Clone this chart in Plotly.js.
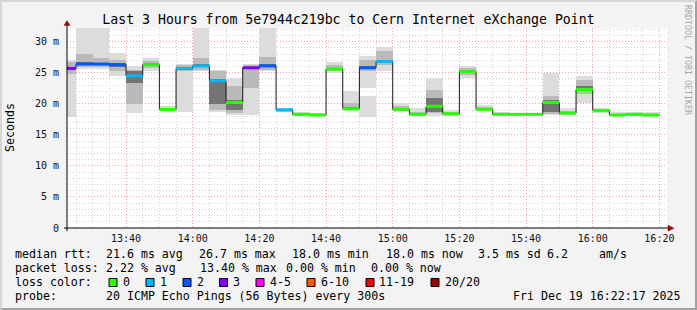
<!DOCTYPE html>
<html><head><meta charset="utf-8">
<script src="https://cdn.plot.ly/plotly-3.0.1.min.js"></script>
<style>
html,body{margin:0;padding:0;background:#f3f3f3;}
#wrap{position:relative;width:697px;height:310px;background:#f3f3f3;box-sizing:border-box;border-top:2px solid #d6d6d6;border-left:2px solid #d6d6d6;border-bottom:2px solid #a2a2a2;border-right:2px solid #a2a2a2;overflow:hidden}
#chart{position:absolute;left:-2px;top:-2px;width:697px;height:310px;}
</style></head><body><div id="wrap"><div id="chart"></div></div>
<script>
// ---- data (5-minute intervals, start times) ----
const day = '2025-12-19';
const times = ['13:20','13:25','13:30','13:35','13:40','13:45','13:50','13:55','14:00','14:05','14:10','14:15',
  '14:20','14:25','14:30','14:35','14:40','14:45','14:50','14:55','15:00','15:05','15:10','15:15',
  '15:20','15:25','15:30','15:35','15:40','15:45','15:50','15:55','16:00','16:05','16:10','16:15'];
// median rtt, ms
const medianMs = [25.7,26.4,26.4,26.3,24.5,26.3,19.1,25.7,26.1,23.7,20.2,25.8,
  26.1,19.0,18.3,18.2,25.6,19.2,25.8,26.8,19.1,18.3,19.6,18.4,
  25.2,19.1,18.3,18.3,18.3,20.2,18.5,22.3,18.9,18.2,18.3,18.2];
// lost pings out of 20
const lossCount = [3,2,2,2,1,0,0,1,1,1,0,3,
  2,1,0,0,0,0,2,1,0,0,0,0,
  0,0,0,0,0,0,0,0,0,0,0,0];
// smoke: outer band (lowest / highest ping)
const smokeMin = [17.9,25.6,25.6,24.5,18.5,25.3,18.9,18.6,25.3,18.7,18.2,18.2,
  25.2,18.7,18.1,18.1,24.9,18.9,22.6,25.3,18.7,18.0,18.1,18.1,
  24.2,18.9,18.15,18.15,18.15,18.2,18.2,20.1,18.5,18.1,18.1,17.95];
const smokeMax = [27.0,35,35,28.2,26.1,27.3,19.6,26.4,35,25.4,24.1,26.4,
  35,19.4,18.7,18.45,26.7,22.0,27.7,29.2,20.2,19.3,24.1,19.0,
  26.1,19.8,18.6,18.55,18.55,25.0,19.4,24.4,19.3,18.6,18.75,18.65];
// smoke: detached lower block (only where the smoke splits)
const smokeLowMin = [null,null,null,null,null,null,null,null,null,null,null,null,
  null,null,null,null,null,null,17.9,null,null,null,null,null,
  null,null,null,null,null,null,null,null,null,null,null,null];
const smokeLowMax = [null,null,null,null,null,null,null,null,null,null,null,null,
  null,null,null,null,null,null,21.2,null,null,null,null,null,
  null,null,null,null,null,null,null,null,null,null,null,null];
// smoke: middle band
const midLo = [24.8,25.9,26.0,25.3,19.9,25.8,19.0,25.2,25.4,19.0,18.5,22.5,
  25.5,18.85,18.2,18.15,25.2,19.0,25.3,26.2,18.9,18.2,18.5,18.25,
  24.7,19.0,18.2,18.2,18.2,18.4,18.3,21.5,18.7,18.15,18.2,18.1];
const midHi = [26.8,28.0,27.3,27.0,25.4,26.9,19.4,26.2,27.3,25.2,22.8,26.2,
  27.5,19.25,18.5,18.35,26.2,20.1,27.0,28.5,19.6,18.7,22.2,18.7,
  25.8,19.5,18.45,18.45,18.45,21.3,18.9,23.8,19.1,18.4,18.5,18.4];
// smoke: inner (dark) band
const innerLo = [25.5,26.2,26.25,26.0,23.3,26.1,19.05,25.5,25.9,20.0,19.0,25.6,
  25.9,18.9,18.25,18.18,25.45,19.1,25.6,26.6,19.0,18.25,18.7,18.3,
  25.0,19.05,18.25,18.25,18.25,18.7,18.4,22.0,18.8,18.18,18.25,18.15];
const innerHi = [26.0,26.7,26.6,26.5,25.2,26.5,19.25,25.9,26.4,24.0,20.6,26.0,
  26.4,19.1,18.4,18.28,25.8,19.5,26.1,27.1,19.3,18.45,21.0,18.55,
  25.4,19.3,18.38,18.38,18.38,20.6,18.7,22.9,19.0,18.3,18.4,18.3];
// loss colour legend
const lossLabels = ['0','1','2','3','4-5','6-10','11-19','20/20'];
const lossColors = ['#26ff00','#00b8ff','#0059ff','#7e00ff','#ff00ff','#ff5500','#ff0000','#a10000'];
const yTickVals = [0,5,10,15,20,25,30];
const yTickText = ['0','5 m','10 m','15 m','20 m','25 m','30 m'];

// ---- helpers ----
const FONT = 'DejaVu Sans Mono, monospace';
const STEP = 300000;
function toDate(t){return day+' '+t+':00';}
function addStep(t){const [h,m]=t.split(':').map(Number);const mm=h*60+m+5;
  return day+' '+String(Math.floor(mm/60)).padStart(2,'0')+':'+String(mm%60).padStart(2,'0')+':00';}
function lossCat(n){if(n<=3)return n; if(n<=5)return 4; if(n<=10)return 5; if(n<=19)return 6; return 7;}
const xs = times.map(toDate);

function band(lo,hi,color,name){
  return {type:'bar',x:xs,base:lo,y:hi.map((h,i)=>(h==null||lo[i]==null)?null:h-lo[i]),
    width:STEP,offset:0,marker:{color:color,line:{width:0}},hoverinfo:'skip',showlegend:false,name:name};
}
const traces = [
  band(smokeMin,smokeMax,'#dcdcdc','outer'),
  band(smokeLowMin,smokeLowMax,'#dcdcdc','outerLow'),
  band(midLo,midHi,'#bababa','mid'),
  band(innerLo,innerHi,'#747474','inner')
];
// black step line
traces.push({type:'scatter',mode:'lines',x:xs.concat([addStep(times[times.length-1])]),
  y:medianMs.concat([medianMs[medianMs.length-1]]),line:{shape:'hv',color:'#1a1a1a',width:1},
  hoverinfo:'skip',showlegend:false});
// coloured median segments by loss category
for(let c=0;c<lossColors.length;c++){
  const x=[],y=[];
  times.forEach((t,i)=>{ if(lossCat(lossCount[i])===c){x.push(toDate(t),addStep(t),null);y.push(medianMs[i],medianMs[i],null);} });
  if(x.length) traces.push({type:'scatter',mode:'lines',x:x,y:y,line:{color:lossColors[c],width:3},hoverinfo:'skip',showlegend:false});
}

// ---- layout geometry (pixel -> paper) ----
const L=67,T=28,W=600,H=200;
const px=p=>(p-L)/W, py=p=>(T+H-p)/H;
function txt(x,y,s,opt){opt=opt||{};return {xref:'paper',yref:'paper',x:px(x),y:py(y),text:s,showarrow:false,
  xanchor:opt.xa||'left',yanchor:'middle',borderpad:0,borderwidth:0,textangle:opt.ang||0,
  font:{family:FONT,size:opt.size||11.6,color:opt.color||'#000'}};}
const annotations = [
  txt(688,60,'RRDTOOL / TOBI OETIKER',{xa:'center',ang:90,size:8.3,color:'#a8a8a8'}),
  txt(10,128,'Seconds',{xa:'center',ang:-90}),
  txt(15,254,'median rtt:'),txt(106,254,'21.6 ms avg'),txt(199,254,'26.7 ms max'),txt(292,254,'18.0 ms min'),
  txt(385.5,254,'18.0 ms now'),txt(478,254,'3.5 ms sd'),txt(547,254,'6.2'),txt(599,254,'am/s'),
  txt(15,268,'packet loss:'),txt(106,268,'2.22 % avg'),txt(200,268,'13.40 % max'),txt(286,268,'0.00 % min'),txt(371.5,268,'0.00 % now'),
  txt(15,282,'loss color:'),
  txt(15,296,'probe:'),txt(106,296,'20 ICMP Echo Pings (56 Bytes) every 300s'),txt(512.5,296,'Fri Dec 19 16:22:17 2025')
];
const boxX=[109,146,183,219.5,256,307,366,431];
const labX=[123,160,197,233,270,321,379,445];
const shapes=[];
lossLabels.forEach((lab,i)=>{
  annotations.push(txt(labX[i],282,lab));
  shapes.push({type:'rect',xref:'paper',yref:'paper',x0:px(boxX[i]),x1:px(boxX[i]+8),y0:py(278.5),y1:py(286.5),
    fillcolor:lossColors[i],line:{color:'#000',width:1},layer:'above'});
});
// axis lines with arrows
shapes.push({type:'line',xref:'paper',yref:'paper',x0:0,x1:0,y0:py(231),y1:py(24),line:{color:'#000',width:1},layer:'above'});
shapes.push({type:'line',xref:'paper',yref:'paper',x0:px(64),x1:px(669),y0:0,y1:0,line:{color:'#000',width:1},layer:'above'});
shapes.push({type:'path',xref:'paper',yref:'paper',path:`M ${px(64)} ${py(25.5)} L ${px(67)} ${py(20.5)} L ${px(70)} ${py(25.5)} Z`,
  fillcolor:'#8b1010',line:{color:'#8b1010',width:0.5},layer:'above'});
shapes.push({type:'path',xref:'paper',yref:'paper',path:`M ${px(668)} ${py(225.2)} L ${px(674)} ${py(228.2)} L ${px(668)} ${py(231.2)} Z`,
  fillcolor:'#8b1010',line:{color:'#8b1010',width:0.5},layer:'above'});

const layout = {
  width:697,height:310,margin:{l:L,r:697-L-W,t:T,b:310-T-H,pad:0},
  paper_bgcolor:'rgba(0,0,0,0)',plot_bgcolor:'#ffffff',
  barmode:'overlay',bargap:0,showlegend:false,
  title:{text:'Last 3 Hours from 5e7944c219bc to Cern Internet eXchange Point',
    font:{family:FONT,size:13.2,color:'#000'},xref:'container',x:0.5,xanchor:'center',
    yref:'container',y:1-19/310,yanchor:'middle'},
  xaxis:{type:'date',range:[day+' 13:22:17',day+' 16:22:17'],fixedrange:true,
    tickmode:'linear',tick0:day+' 13:40:00',dtick:1200000,tickformat:'%H:%M',
    ticks:'',ticklabelstandoff:3,tickfont:{family:FONT,size:10,color:'#111'},
    showgrid:true,gridcolor:'#f2a0a0',griddash:'1px,2px',gridwidth:1,
    minor:{tick0:day+' 13:40:00',dtick:STEP,showgrid:true,gridcolor:'#d2d2d2',griddash:'1px,2px',ticks:''},
    showline:false,zeroline:false},
  yaxis:{range:[0,(228.3-28)/6.22],fixedrange:true,tickmode:'array',tickvals:yTickVals,ticktext:yTickText,
    ticks:'',ticklabelstandoff:7,tickfont:{family:FONT,size:10,color:'#111'},
    showgrid:true,gridcolor:'#f2a0a0',griddash:'1px,2px',gridwidth:1,
    minor:{dtick:1,showgrid:true,gridcolor:'#d2d2d2',griddash:'1px,2px',ticks:''},
    showline:false,zeroline:false},
  annotations:annotations,shapes:shapes
};
Plotly.newPlot('chart',traces,layout,{staticPlot:true,displayModeBar:false});
</script></body></html>
